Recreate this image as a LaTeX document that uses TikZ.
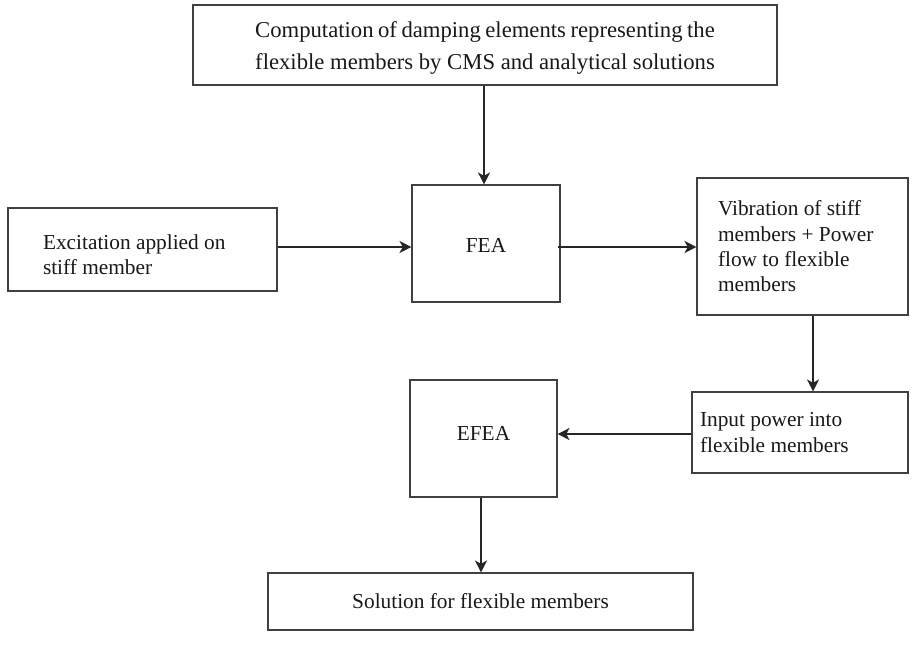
\documentclass[tikz,border=0pt]{standalone}
\usepackage{fontspec}
\setmainfont{Liberation Serif}
\usetikzlibrary{arrows.meta}
\newlength\linelen
\begin{document}
\begin{tikzpicture}[x=0.75pt,y=-0.75pt,
  box/.style={draw=black!75, line width=0.8pt, fill=none, inner sep=0pt,
    text=black!90, font=\fontsize{16}{19}\selectfont},
  arr/.style={draw=black!85, line width=0.9pt, -{Stealth[length=9pt,width=9pt,inset=2.5pt]}}]
\useasboundingbox (0,0) rectangle (916,663);
\fill[white] (0,0) rectangle (916,663);

\node[box, minimum width=584*0.75pt, minimum height=80*0.75pt, align=center,
  font=\fontsize{17}{24}\selectfont] (top) at (485,45)
  {\settowidth{\linelen}{flexible members by CMS and analytical solutions}\rule{0pt}{17pt}\makebox[\linelen][s]{Computation of damping elements representing the}\\flexible members by CMS and analytical solutions};

\node[box, minimum width=148*0.75pt, minimum height=117*0.75pt] (fea) at (486,243.5) {\rule{0pt}{14pt}FEA};

\node[box, minimum height=83*0.75pt, text width=199*0.75pt, inner xsep=35*0.75pt, align=flush left] (exc) at (142.5,249.5)
  {\rule{0pt}{19pt}Excitation applied on\\stiff member};

\node[box, minimum height=137*0.75pt, text width=169*0.75pt, inner xsep=21*0.75pt, align=flush left] (vib) at (802.5,246.5)
  {Vibration of stiff\\members + Power\\flow to flexible\\members};

\node[box, minimum height=81*0.75pt, text width=200*0.75pt, inner xsep=8*0.75pt, align=flush left] (inp) at (800,432.5)
  {Input power into\\flexible members};

\node[box, minimum width=147*0.75pt, minimum height=117*0.75pt] (efea) at (483.5,438.5) {EFEA\rule[-8pt]{0pt}{8pt}};

\node[box, minimum width=425*0.75pt, minimum height=57*0.75pt] (sol) at (480.5,601.5) {Solution for flexible members};

\coordinate (topout) at ([xshift=-2*0.75pt]fea.north);
\draw[arr] (top.south -| topout) -- (topout);
\coordinate (midline) at ([yshift=-3.5*0.75pt]fea.west);
\draw[arr] (exc.east |- midline) -- (midline);
\draw[arr] ([xshift=-2pt]fea.east |- midline) -- (vib.west |- midline);
\coordinate (vibout) at ([xshift=10.5*0.75pt]vib.south);
\draw[arr] (vibout) -- (vibout |- inp.north);
\coordinate (inpin) at ([yshift=-1.5*0.75pt]inp.west);
\draw[arr] (inpin) -- (efea.east |- inpin);
\coordinate (efout) at ([xshift=-2.5*0.75pt]efea.south);
\draw[arr] (efout) -- (efout |- sol.north);
\end{tikzpicture}
\end{document}
